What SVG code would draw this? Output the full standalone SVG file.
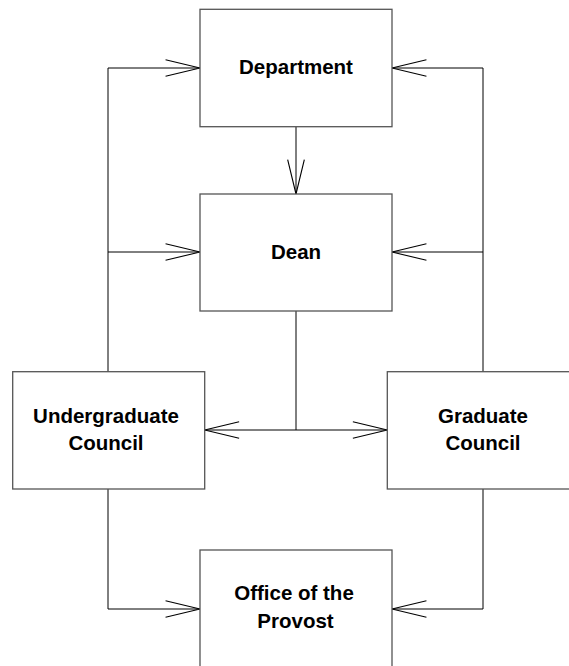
<svg xmlns="http://www.w3.org/2000/svg" width="569" height="666" viewBox="0 0 569 666">
<style>
.box{fill:#fff;stroke:#555;stroke-width:1.3}
.lbl{font-family:"Liberation Sans",Arial,sans-serif;font-weight:bold;font-size:20.5px;fill:#000;text-anchor:middle}
.con{fill:none;stroke:#000;stroke-width:1}
</style>
<defs>
<marker id="arr" markerUnits="userSpaceOnUse" markerWidth="40" markerHeight="20" viewBox="-32 -9 34 18" refX="0" refY="0" orient="auto" overflow="visible">
<path d="M-31,-7.5 L0,0 L-31,7.5" fill="none" stroke="#000" stroke-width="1"/>
</marker>
</defs>
<rect width="569" height="666" fill="#fff"/>
<g id="connectors">
<polyline class="con" points="108,372 108,68 200,68" marker-end="url(#arr)"/>
<polyline class="con" points="108,252 200,252" marker-end="url(#arr)"/>
<polyline class="con" points="483,372 483,68 392,68" marker-end="url(#arr)"/>
<polyline class="con" points="483,252 392,252" marker-end="url(#arr)"/>
<polyline class="con" points="296,127 296,194" marker-end="url(#arr)"/>
<polyline class="con" points="296,311 296,430"/>
<polyline class="con" points="296,430 204.7,430" marker-end="url(#arr)"/>
<polyline class="con" points="296,430 387.3,430" marker-end="url(#arr)"/>
<polyline class="con" points="108,489 108,609 200,609" marker-end="url(#arr)"/>
<polyline class="con" points="483,489 483,609 392,609" marker-end="url(#arr)"/>
</g>
<g id="department">
<rect class="box" x="200" y="9.3" width="192" height="117.4"/>
<text class="lbl" x="296" y="74">Department</text>
</g>
<g id="dean">
<rect class="box" x="200" y="194" width="192" height="117"/>
<text class="lbl" x="296" y="259.3">Dean</text>
</g>
<g id="undergraduate-council">
<rect class="box" x="12.7" y="371.7" width="192" height="117.3"/>
<text class="lbl" x="106" y="423.3">Undergraduate</text>
<text class="lbl" x="106" y="450">Council</text>
</g>
<g id="graduate-council">
<rect class="box" x="387.3" y="371.7" width="192" height="117.3"/>
<text class="lbl" x="483" y="423.3">Graduate</text>
<text class="lbl" x="483" y="450">Council</text>
</g>
<g id="office-of-the-provost">
<rect class="box" x="200" y="550" width="192" height="130"/>
<text class="lbl" x="294" y="600">Office of the</text>
<text class="lbl" x="295.5" y="627.7">Provost</text>
</g>
</svg>
